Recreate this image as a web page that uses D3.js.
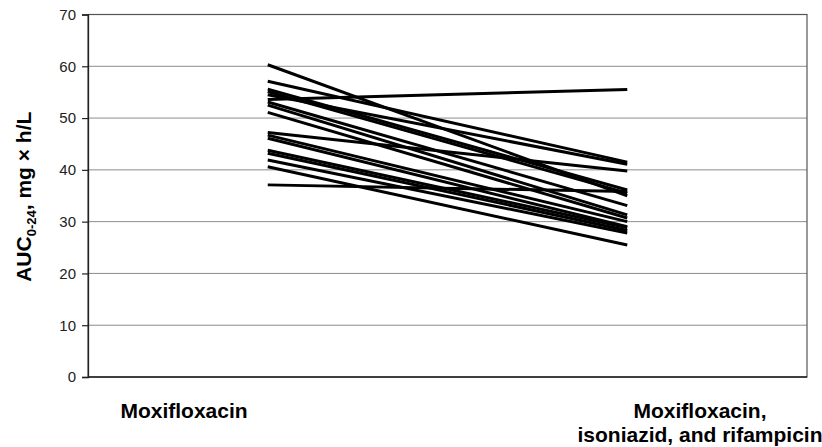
<!DOCTYPE html>
<html>
<head>
<meta charset="utf-8">
<script src="https://cdn.jsdelivr.net/npm/d3@7"></script>
<style>
  body { margin: 0; background: #fff; }
  svg { display: block; font-family: "Liberation Sans", Arial, sans-serif; }
</style>
</head>
<body>
<svg id="chart" width="822" height="447"></svg>
<script>
// regimens on the x axis
var regimens = ["moxi", "moxiInhRif"];
// AUC0-24 per patient, first regimen then the combination
var aucMoxi = [60.3, 57.1, 55.6, 55.1, 54.5, 53.6, 53.1, 52.5, 51.1, 47.2, 46.7, 46.1, 43.8, 43.2, 41.9, 40.6, 37.1];
var aucCombo = [35.0, 41.5, 36.1, 35.5, 41.1, 55.5, 33.1, 31.3, 30.7, 39.8, 30.0, 29.0, 28.8, 28.3, 27.8, 25.5, 35.8];
var yTicks = [0, 10, 20, 30, 40, 50, 60, 70];
var labelMoxi = ["Moxifloxacin"];
var labelCombo = ["Moxifloxacin,", "isoniazid, and rifampicin"];

var svg = d3.select("#chart");
var margin = {top: 14.5, right: 15, bottom: 70, left: 88};
var width = 822 - margin.left - margin.right;
var height = 447 - margin.top - margin.bottom;

var g = svg.append("g")
  .attr("transform", "translate(" + margin.left + "," + margin.top + ")");

var x = d3.scalePoint().domain(regimens).range([0, width]).padding(0.5);
var y = d3.scaleLinear().domain([0, 70]).range([height, 0]);

//gridlines
g.selectAll(".grid")
  .data(yTicks.filter(function (t) { return t > 0 && t < 70; }))
  .enter().append("line")
  .attr("x1", 0)
  .attr("x2", width)
  .attr("y1", function (d) { return y(d); })
  .attr("y2", function (d) { return y(d); })
  .attr("stroke", "#8c8c8c")
  .attr("stroke-width", 1);

//frame (top and right)
g.append("rect")
  .attr("x", 0).attr("y", 0)
  .attr("width", width).attr("height", height)
  .attr("fill", "none")
  .attr("stroke", "#555")
  .attr("stroke-width", 1.2);

//patient lines
var pairs = aucMoxi.map(function (v, i) { return [v, aucCombo[i]]; });
var line = d3.line()
  .x(function (d, i) { return x(regimens[i]); })
  .y(function (d) { return y(d); });

g.selectAll(".patient")
  .data(pairs)
  .enter().append("path")
  .attr("d", line)
  .attr("fill", "none")
  .attr("stroke", "#000")
  .attr("stroke-width", 3);

//y axis
var yAxis = g.append("g")
  .call(d3.axisLeft(y).tickValues(yTicks).tickSize(6).tickPadding(6));
yAxis.select(".domain").attr("stroke", "#222").attr("stroke-width", 1.3);
yAxis.selectAll(".tick line").attr("stroke", "#222").attr("stroke-width", 1.2);
yAxis.selectAll(".tick text")
  .attr("font-size", 15)
  .attr("fill", "#222")
  .attr("font-family", "Liberation Sans, Arial, sans-serif");

//bottom axis line
g.append("line")
  .attr("x1", 0).attr("x2", width)
  .attr("y1", height).attr("y2", height)
  .attr("stroke", "#222")
  .attr("stroke-width", 1.3);

//category labels
var labelY = height + 41;
g.append("text")
  .attr("x", 96)
  .attr("y", labelY)
  .attr("text-anchor", "middle")
  .attr("font-size", 21)
  .attr("font-weight", "bold")
  .text(labelMoxi[0]);

var comboText = g.append("text")
  .attr("x", 612)
  .attr("y", labelY)
  .attr("text-anchor", "middle")
  .attr("font-size", 21)
  .attr("font-weight", "bold");
comboText.selectAll("tspan")
  .data(labelCombo)
  .enter().append("tspan")
  .attr("x", 612)
  .attr("dy", function (d, i) { return i === 0 ? 0 : 24; })
  .text(function (d) { return d; });

//y axis title
var title = svg.append("text")
  .attr("transform", "translate(31," + (margin.top + height / 2 + 1) + ") rotate(-90)")
  .attr("text-anchor", "middle")
  .attr("font-size", 21)
  .attr("font-weight", "bold");
title.append("tspan").text("AUC");
title.append("tspan").attr("font-size", 13).attr("dy", 5).text("0-24");
title.append("tspan").attr("dy", -5).text(", mg × h/L");
</script>
</body>
</html>
